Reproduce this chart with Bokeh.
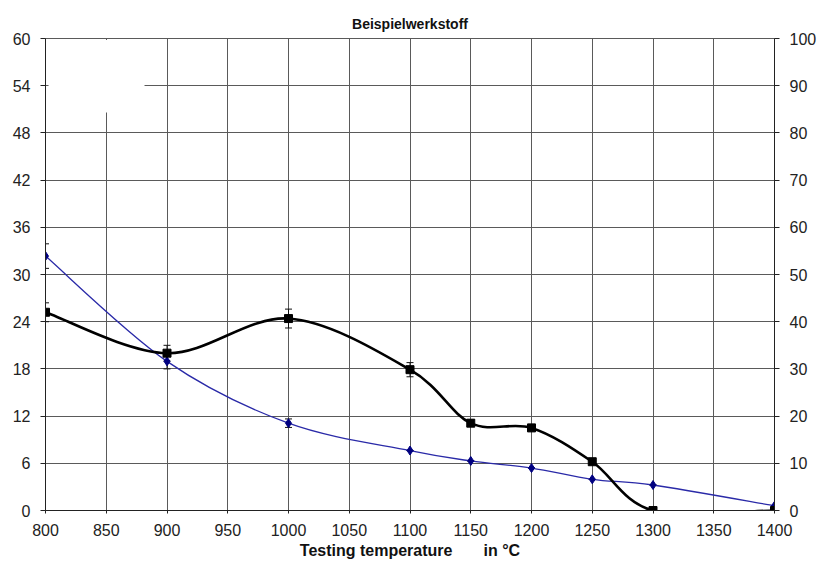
from bokeh.plotting import figure
from bokeh.models import (LinearAxis, Range1d, FixedTicker, ColumnDataSource,
                          Whisker, TeeHead, BoxAnnotation)
from bokeh.embed import file_html
from bokeh.resources import INLINE

# ---- data ----
temps = [800, 900, 1000, 1100, 1150, 1200, 1250, 1300, 1400]
black_vals = [25.2, 20.0, 24.4, 17.9, 11.1, 10.5, 6.2, 0.0, 0.0]       # left axis
black_err = [1.2, 1.0, 1.2, 0.9, 0.4, 0.3, 0.2, 0.0, 0.0]
blue_vals = [53.9, 31.6, 18.5, 12.7, 10.5, 9.0, 6.6, 5.4, 1.0]         # right axis
blue_err = [2.6, 1.6, 0.9, 0.0, 0.0, 0.0, 0.0, 0.0, 0.0]

x_ticks = [800, 850, 900, 950, 1000, 1050, 1100, 1150, 1200, 1250, 1300, 1350, 1400]
left_ticks = [0, 6, 12, 18, 24, 30, 36, 42, 48, 54, 60]
right_ticks = [0, 10, 20, 30, 40, 50, 60, 70, 80, 90, 100]

title_text = "Beispielwerkstoff"
x_label = "Testing temperature" + "\u00a0" * 7 + "in °C"

FONT = "Liberation Sans"
GRID = "#5a5a5a"


def smooth_segments(xs, ys, t=1.0 / 6.0):
    """Bezier segments through the points (spreadsheet-style smoothed line)."""
    n = len(xs)
    seg = dict(x0=[], y0=[], x1=[], y1=[], cx0=[], cy0=[], cx1=[], cy1=[])
    for i in range(n - 1):
        xa, ya = (xs[i - 1], ys[i - 1]) if i > 0 else (xs[i], ys[i])
        xd, yd = (xs[i + 2], ys[i + 2]) if i + 2 < n else (xs[i + 1], ys[i + 1])
        seg["x0"].append(xs[i]); seg["y0"].append(ys[i])
        seg["x1"].append(xs[i + 1]); seg["y1"].append(ys[i + 1])
        seg["cx0"].append(xs[i] + (xs[i + 1] - xa) * t)
        seg["cy0"].append(ys[i] + (ys[i + 1] - ya) * t)
        seg["cx1"].append(xs[i + 1] - (xd - xs[i]) * t)
        seg["cy1"].append(ys[i + 1] - (yd - ys[i]) * t)
    return ColumnDataSource(seg)


p = figure(width=819, height=562, output_backend="svg", toolbar_location=None,
           x_range=Range1d(800, 1400), y_range=Range1d(0, 60),
           min_border_left=45, min_border_right=42, min_border_top=38,
           min_border_bottom=52, background_fill_color="white",
           border_fill_color="white")
p.extra_y_ranges = {"right": Range1d(0, 100)}

p.title.text = title_text
p.title.align = "center"
p.title.text_font = FONT
p.title.text_font_size = "14px"
p.title.text_font_style = "bold"
p.title.text_color = "#111111"
p.title.standoff = 14

p.outline_line_color = GRID

# axes
p.xaxis.ticker = FixedTicker(ticks=x_ticks)
p.yaxis.ticker = FixedTicker(ticks=left_ticks)
p.xaxis.axis_label = x_label
p.xaxis.axis_label_text_font = FONT
p.xaxis.axis_label_text_font_size = "16px"
p.xaxis.axis_label_text_font_style = "bold"
p.xaxis.axis_label_text_color = "#111111"
p.xaxis.axis_label_standoff = 3

right_axis = LinearAxis(y_range_name="right", ticker=FixedTicker(ticks=right_ticks))
p.add_layout(right_axis, "right")

for ax in [p.xaxis[0], p.yaxis[0], right_axis]:
    ax.major_label_text_font = FONT
    ax.major_label_text_font_size = "16px"
    ax.major_label_text_color = "#222222"
    ax.axis_line_color = "#222222"
    ax.major_tick_line_color = "#222222"
    ax.major_tick_out = 5
    ax.major_tick_in = 0
    ax.minor_tick_out = 0
    ax.minor_tick_in = 0
    ax.major_label_standoff = 10
p.xaxis.major_tick_out = 3
p.xaxis.major_label_standoff = 10

p.xgrid.ticker = FixedTicker(ticks=x_ticks)
p.ygrid.ticker = FixedTicker(ticks=left_ticks)
for g in [p.xgrid[0], p.ygrid[0]]:
    g.grid_line_color = GRID
    g.grid_line_width = 1

# empty legend box (white) in the top-left corner
p.add_layout(BoxAnnotation(left=802.5, right=881.5, bottom=50.6, top=59.8,
                           fill_color="white", fill_alpha=1.0,
                           line_color=None, level="underlay"))

# blue series (right axis)
blue_src = ColumnDataSource(dict(x=temps, y=blue_vals,
                                 lo=[v - e for v, e in zip(blue_vals, blue_err)],
                                 hi=[v + e for v, e in zip(blue_vals, blue_err)]))
p.bezier(x0="x0", y0="y0", x1="x1", y1="y1", cx0="cx0", cy0="cy0", cx1="cx1", cy1="cy1",
         source=smooth_segments(temps, blue_vals), line_color="#2a2aa8",
         line_width=1.3, y_range_name="right")
p.add_layout(Whisker(base="x", lower="lo", upper="hi", source=blue_src,
                     y_range_name="right", line_color="#111111", line_width=1,
                     upper_head=TeeHead(size=7, line_color="#111111"),
                     lower_head=TeeHead(size=7, line_color="#111111")))
p.scatter("x", "y", source=blue_src, marker="diamond", size=9,
          fill_color="#000080", line_color="#000080", y_range_name="right")

# black series (left axis)
black_src = ColumnDataSource(dict(x=temps, y=black_vals,
                                  lo=[v - e for v, e in zip(black_vals, black_err)],
                                  hi=[v + e for v, e in zip(black_vals, black_err)]))
p.bezier(x0="x0", y0="y0", x1="x1", y1="y1", cx0="cx0", cy0="cy0", cx1="cx1", cy1="cy1",
         source=smooth_segments(temps, black_vals), line_color="black", line_width=2.6)
p.add_layout(Whisker(base="x", lower="lo", upper="hi", source=black_src,
                     line_color="#111111", line_width=1,
                     upper_head=TeeHead(size=7, line_color="#111111"),
                     lower_head=TeeHead(size=7, line_color="#111111")))
p.scatter("x", "y", source=black_src, marker="square", size=8,
          fill_color="black", line_color="black")

open("out.html", "w").write(file_html(p, INLINE))
